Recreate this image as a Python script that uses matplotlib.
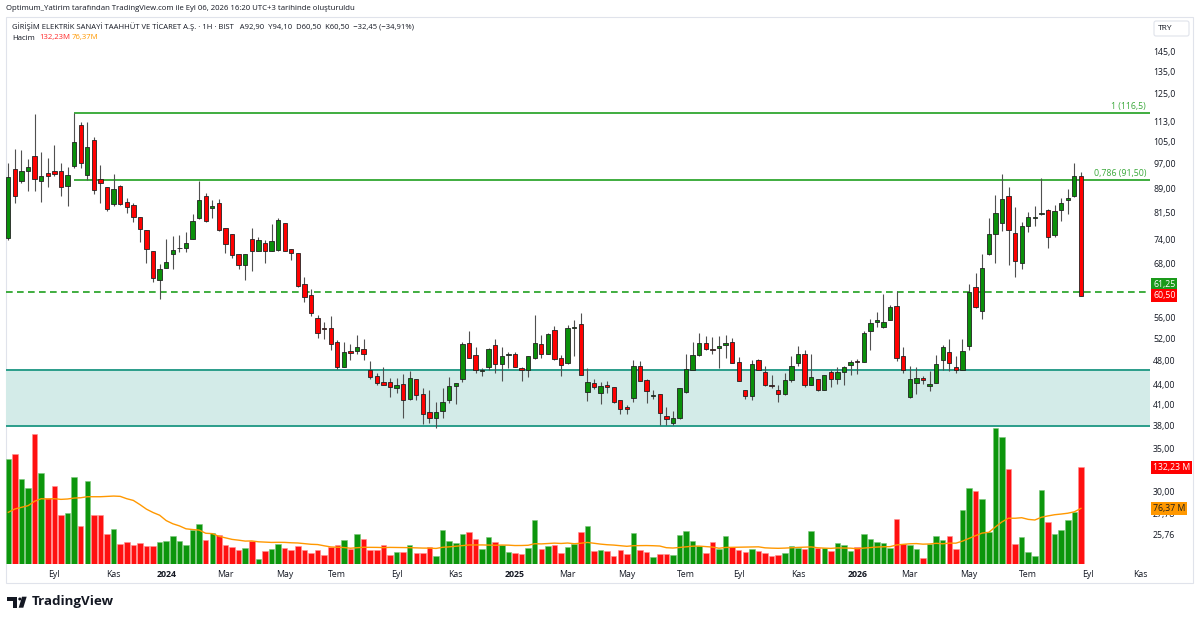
import numpy as np
import pandas as pd
import matplotlib
matplotlib.use('Agg')
import matplotlib.pyplot as plt
from matplotlib.patches import Rectangle, Polygon, Circle, FancyBboxPatch
from matplotlib.ticker import NullLocator, NullFormatter

plt.rcParams['font.family'] = ['Open Sans', 'DejaVu Sans']

# weekly candles (1H = 1 hafta), first bar = week of 2023-07-17
first_week = '2023-07-17'

opens = [74.3, 95.2, 91.4, 94.7, 99.8, 91.4, 93.9, 94.7, 94.7, 89.6,
         96.2, 111.7, 93.1, 105.6, 91.9, 89.2, 84.0, 89.6, 84.8, 83.6,
         80.3, 76.6, 71.1, 64.0, 66.8, 70.3, 71.7, 71.9, 74.2, 80.0,
         86.4, 83.0, 84.3, 77.2, 75.4, 70.2, 67.6, 74.1, 71.0, 73.0,
         71.0, 71.3, 78.4, 71.5, 70.4, 63.1, 60.6, 55.8, 53.9, 53.9,
         51.2, 46.9, 49.6, 49.7, 50.0, 46.3, 45.4, 44.5, 44.4, 43.5,
         44.1, 41.8, 44.9, 42.5, 39.9, 39.1, 40.0, 41.6, 43.8, 44.9,
         51.0, 49.0, 46.2, 46.8, 50.8, 47.4, 49.0, 49.1, 46.7, 46.4,
         48.4, 50.9, 49.2, 53.6, 48.5, 47.5, 54.0, 54.6, 42.9, 44.3,
         42.7, 44.0, 43.6, 41.6, 40.6, 41.9, 47.0, 44.7, 42.3, 42.5,
         39.4, 38.3, 39.0, 42.8, 46.4, 48.9, 51.1, 50.0, 50.1, 50.8,
         51.3, 47.7, 43.1, 42.2, 48.1, 46.0, 44.0, 43.1, 42.6, 44.8,
         47.5, 49.2, 44.0, 44.9, 43.2, 46.0, 44.9, 46.0, 47.3, 47.9,
         47.8, 53.4, 55.1, 54.2, 55.5, 58.4, 48.7, 42.1, 44.2, 45.0,
         43.8, 44.3, 48.0, 49.5, 46.9, 46.4, 50.5, 62.5, 57.3, 70.3,
         75.5, 78.5, 86.6, 75.8, 68.0, 77.7, 80.0, 81.0, 82.3, 75.3,
         82.3, 85.3, 86.5, 92.9]

highs = [97.5, 102.3, 102.0, 98.6, 116.1, 101.3, 99.0, 104.0, 97.3, 96.1,
         116.5, 112.7, 112.7, 107.0, 96.8, 89.2, 93.6, 90.0, 85.8, 84.5,
         80.3, 76.6, 71.1, 67.8, 74.1, 74.9, 75.2, 75.9, 81.2, 91.4,
         87.3, 85.3, 85.6, 77.2, 75.4, 70.2, 70.2, 77.2, 74.7, 73.9,
         78.3, 79.8, 78.4, 71.5, 70.4, 64.6, 62.0, 56.5, 55.1, 56.2,
         51.6, 51.2, 50.9, 52.5, 51.8, 47.9, 45.9, 46.9, 45.0, 45.0,
         45.7, 46.2, 44.9, 43.5, 43.1, 41.4, 43.5, 45.2, 44.3, 51.3,
         53.4, 50.3, 46.7, 50.2, 51.9, 50.3, 49.4, 49.5, 46.9, 48.8,
         56.5, 52.6, 53.0, 54.3, 49.0, 54.5, 55.4, 56.8, 46.7, 44.9,
         44.4, 44.6, 43.6, 41.6, 40.9, 48.0, 47.9, 44.9, 43.1, 42.5,
         40.6, 40.0, 43.5, 49.2, 51.2, 53.0, 52.3, 52.2, 52.4, 52.6,
         52.1, 48.6, 43.1, 48.1, 48.3, 47.1, 45.5, 43.9, 45.9, 48.7,
         50.6, 49.9, 49.2, 44.9, 45.5, 46.4, 46.8, 47.1, 48.0, 48.3,
         53.4, 55.6, 57.0, 60.8, 58.6, 61.5, 50.3, 47.0, 46.8, 45.4,
         46.2, 49.0, 50.7, 51.8, 48.8, 51.9, 63.2, 65.7, 70.2, 80.0,
         86.8, 93.6, 89.3, 83.1, 78.9, 81.8, 83.5, 92.1, 82.5, 83.8,
         85.8, 88.6, 97.5, 94.1]

lows = [74.0, 84.4, 90.7, 87.9, 87.9, 84.8, 89.3, 93.0, 86.5, 83.5,
        95.6, 95.6, 91.6, 87.0, 84.3, 81.9, 83.4, 83.6, 81.3, 78.8,
        73.3, 68.1, 63.5, 59.8, 66.8, 66.7, 70.8, 70.9, 74.2, 79.6,
        78.9, 79.8, 76.4, 70.4, 69.2, 66.7, 64.0, 66.0, 71.0, 68.0,
        71.0, 71.0, 71.0, 68.8, 62.4, 59.1, 56.3, 52.1, 51.9, 49.9,
        46.5, 46.8, 48.1, 49.2, 48.1, 44.9, 43.9, 43.9, 42.1, 42.7,
        39.0, 41.7, 41.7, 38.2, 38.4, 37.7, 39.1, 41.2, 41.0, 44.5,
        48.4, 45.9, 45.4, 46.4, 45.9, 44.6, 46.7, 46.8, 44.6, 45.2,
        48.3, 48.5, 49.1, 48.1, 45.4, 47.4, 48.7, 45.5, 41.5, 43.3,
        41.0, 42.7, 41.2, 39.6, 39.6, 41.4, 44.6, 41.2, 41.8, 38.1,
        38.1, 38.1, 38.9, 42.7, 46.3, 48.7, 49.9, 49.2, 46.7, 48.5,
        47.5, 44.6, 41.8, 41.6, 46.4, 43.8, 43.5, 41.4, 42.4, 44.4,
        47.1, 43.7, 43.9, 43.0, 43.1, 43.7, 44.1, 43.9, 45.5, 45.8,
        47.7, 49.9, 54.2, 54.0, 55.4, 47.9, 45.9, 41.9, 42.6, 44.1,
        43.0, 44.2, 46.4, 46.2, 45.9, 46.3, 49.9, 57.9, 55.7, 70.0,
        68.1, 76.3, 67.6, 64.6, 66.7, 76.1, 77.7, 80.8, 71.9, 74.7,
        79.0, 81.0, 86.3, 60.5]

closes = [92.5, 86.5, 94.6, 96.1, 91.8, 92.9, 93.0, 93.5, 89.3, 93.2,
          104.9, 97.5, 103.0, 88.4, 90.6, 82.6, 88.8, 84.0, 83.1, 80.3,
          76.8, 71.6, 64.4, 66.6, 68.3, 71.3, 71.9, 73.0, 79.1, 85.3,
          79.1, 83.5, 76.6, 72.8, 70.0, 67.6, 70.2, 71.0, 73.9, 71.0,
          73.5, 79.4, 71.1, 70.4, 62.6, 60.2, 56.8, 52.9, 53.8, 50.9,
          46.9, 49.5, 49.3, 50.3, 49.2, 45.2, 44.3, 44.0, 43.6, 44.0,
          41.7, 45.1, 42.4, 39.6, 39.1, 39.9, 41.4, 43.8, 44.2, 50.9,
          48.5, 46.4, 46.3, 50.0, 47.4, 48.8, 49.1, 46.9, 46.3, 48.7,
          51.1, 49.1, 52.8, 48.2, 47.3, 54.0, 54.1, 45.5, 44.4, 43.6,
          43.8, 43.6, 41.3, 40.4, 40.4, 47.0, 44.6, 43.0, 42.4, 39.8,
          38.9, 39.0, 43.5, 46.5, 48.9, 51.1, 50.0, 49.9, 50.6, 51.0,
          47.6, 44.6, 42.2, 47.4, 46.4, 44.0, 43.8, 42.6, 44.7, 47.1,
          49.2, 43.9, 45.2, 43.1, 45.5, 44.9, 46.0, 46.8, 47.8, 47.8,
          52.9, 54.8, 55.4, 55.0, 58.2, 48.5, 46.4, 44.9, 45.0, 44.7,
          44.1, 47.4, 50.3, 47.6, 46.4, 49.7, 61.4, 58.1, 66.9, 75.5,
          81.3, 85.5, 76.7, 68.6, 77.7, 80.2, 80.1, 81.3, 74.6, 82.0,
          84.5, 86.0, 92.9, 60.5]

# volume in millions
volumes = [143.2, 150.4, 115.9, 104.5, 177.7, 124.9, 90.0, 106.4, 66.9, 69.6,
           119.5, 52.7, 113.2, 67.7, 66.9, 41.4, 47.8, 27.4, 30.5, 26.8,
           29.6, 25.1, 25.1, 30.5, 31.5, 38.7, 32.3, 26.8, 46.9, 54.6,
           33.2, 42.4, 40.5, 26.8, 23.7, 20.0, 22.8, 31.5, 7.4, 18.3,
           21.0, 28.2, 22.8, 20.0, 25.5, 20.0, 15.5, 20.0, 12.8, 23.7,
           26.4, 33.2, 21.0, 41.4, 34.6, 20.0, 20.0, 26.4, 12.8, 16.5,
           17.3, 26.4, 16.0, 15.1, 24.2, 11.4, 46.9, 31.9, 29.2, 41.0,
           43.7, 34.2, 21.4, 36.9, 30.1, 26.0, 16.9, 16.0, 14.2, 22.3,
           60.0, 21.4, 25.1, 26.9, 15.1, 23.3, 28.2, 44.6, 51.9, 18.7,
           19.6, 17.8, 11.4, 19.6, 14.2, 42.8, 19.6, 16.9, 9.6, 14.2,
           14.2, 12.4, 40.1, 45.5, 31.9, 25.1, 16.0, 30.1, 21.4, 39.1,
           23.3, 19.6, 16.9, 21.4, 18.7, 15.1, 11.4, 12.4, 15.1, 24.6,
           22.8, 20.5, 45.5, 22.3, 21.9, 18.7, 28.7, 26.0, 18.7, 23.3,
           41.0, 34.2, 30.5, 28.7, 22.3, 62.3, 27.8, 26.9, 20.5, 9.2,
           27.8, 38.2, 33.2, 39.1, 21.4, 74.1, 104.1, 100.0, 89.1, 43.7,
           186.3, 174.0, 129.5, 27.8, 37.3, 16.9, 11.0, 100.9, 58.2, 41.0,
           46.4, 60.5, 71.8, 132.23]

# 20-week volume MA for the first 19 bars (window starts before the visible range)
vol_ma_head = [71.0, 75.5, 77.8, 80.0, 86.0, 89.5, 89.1, 89.5, 88.6, 89.1,
               90.4, 90.8, 92.2, 92.2, 92.2, 92.7, 93.1, 92.7, 89.5]

price_ticks = [145.0, 135.0, 125.0, 113.0, 105.0, 97.0, 89.0, 81.5, 74.0, 68.0,
               56.0, 52.0, 48.0, 44.0, 41.0, 38.0, 35.0, 30.0, 27.78, 25.76]
price_tick_labels = ['145,0', '135,0', '125,0', '113,0', '105,0', '97,00', '89,00',
                     '81,50', '74,00', '68,00', '56,00', '52,00', '48,00', '44,00',
                     '41,00', '38,00', '35,00', '30,00', '27,78', '25,76']
month_abbr = {3: 'Mar', 5: 'May', 7: 'Tem', 9: 'Eyl', 11: 'Kas'}

fib_levels = [116.5, 91.5]
fib_labels = ['1 (116,5)', '0,786 (91,50)']
fib_start = 10          # bar where the fib levels are anchored
support = 61.25
zone_low, zone_high = 38.0, 46.3

title = 'Optimum_Yatirim tarafından TradingView.com ile Eyl 06, 2026 16:20 UTC+3 tarihinde oluşturuldu'
legend = ('GİRİŞİM ELEKTRİK SANAYİ TAAHHÜT VE TİCARET A.Ş. · 1H · BIST   '
          'A92,90  Y94,10  D60,50  K60,50  −32,45 (−34,91%)')

W, H = 1200, 622
UP, DOWN = '#0a8f0a', '#ff0000'
GREEN_LINE = '#1f9f1f'
TXT = '#131722'

o = np.array(opens)
h = np.array(highs)
l = np.array(lows)
c = np.array(closes)
x = np.arange(len(o))
up = c >= o

vol = np.array(volumes)
vol_ma = np.concatenate([vol_ma_head, np.convolve(vol, np.ones(20) / 20, 'valid')])

# month ticks: first weekly bar of every odd month
weeks = pd.date_range(first_week, periods=174, freq='W-MON')
tick_pos, tick_lab, tick_bold = [], [], []
for i in range(1, len(weeks)):
    m = weeks[i].month
    if m != weeks[i - 1].month and m % 2 == 1:
        tick_pos.append(i)
        tick_lab.append(str(weeks[i].year) if m == 1 else month_abbr[m])
        tick_bold.append(m == 1)


def px_rect(x0, y0, x1, y1):
    return [x0 / W, 1 - y1 / H, (x1 - x0) / W, (y1 - y0) / H]


fig = plt.figure(figsize=(12, 6.22), dpi=100)

# overlay in pixel coords for the frame, header texts and logo
ov = fig.add_axes([0, 0, 1, 1])
ov.set_xlim(0, W)
ov.set_ylim(H, 0)
ov.axis('off')
ov.add_patch(Rectangle((6, 16.7), 1187, 566, fill=False, ec='#e0e3eb', lw=0.8))
ov.add_patch(FancyBboxPatch((1154, 21), 35, 15, boxstyle='round,pad=0,rounding_size=2',
                            fc='white', ec='#e0e3eb', lw=0.8))
ov.text(1165.5, 28.7, 'TRY', ha='center', va='center', fontsize=6, color=TXT)
ov.text(6, 9, title, fontsize=5.6, color=TXT, va='center')
ov.text(12, 27, legend, fontsize=5.5, color=TXT, va='center')
ov.text(12, 38, 'Hacim', fontsize=5.6, color=TXT, va='center')
ov.text(39, 38, '132,23M', fontsize=5.6, color='#ff2a2a', va='center')
ov.text(72, 38, '76,37M', fontsize=5.6, color='#ff9800', va='center')

# TradingView logo
ov.add_patch(Polygon([(7.3, 596.7), (17.3, 596.7), (17.3, 607.7), (12.7, 607.7),
                      (12.7, 600.7), (7.3, 600.7)], fc=TXT, ec='none'))
ov.add_patch(Circle((19.8, 599), 1.5, fc=TXT, ec='none'))
ov.add_patch(Polygon([(22, 596.7), (26.7, 596.7), (23.3, 607.7), (18.7, 607.7)], fc=TXT, ec='none'))
ov.text(32, 602, 'TradingView', fontsize=9.6, fontweight='bold', color=TXT, va='center')

# volume pane (bottom layer)
ax = fig.add_axes(px_rect(6, 17, 1150, 564.4))
ax.set_facecolor('none')
ax.bar(x, vol, width=0.84, color=np.where(up, '#0c960c', '#ff1010'),
       edgecolor=np.where(up, '#7cc87c', '#ff9090'), linewidth=0.4, zorder=2)
ax.plot(x, vol_ma, color='#ff9800', lw=1.0, zorder=3)
ax.set_ylim(0, 745.8)
ax.set_yticks([])
ax.set_xticks(tick_pos, tick_lab)
for t, b in zip(ax.get_xticklabels(), tick_bold):
    if b:
        t.set_fontweight('bold')
ax.tick_params(axis='x', length=0, pad=4, labelsize=6.3, labelcolor=TXT)
for s in ax.spines.values():
    s.set_visible(False)

# price pane (log)
axp = ax.twinx()
axp.set_yscale('log')
axp.axhspan(zone_low, zone_high, color='#d3ebe8', lw=0, zorder=0)
axp.axhline(zone_high, color='#2a9d8a', lw=1.4, zorder=1)
axp.axhline(zone_low, color='#2a9d8a', lw=1.4, zorder=1)
axp.axhline(support, color=GREEN_LINE, lw=1.2, ls=(0, (4, 2.6)), zorder=1)
xr = 173.5
for lev, lab in zip(fib_levels, fib_labels):
    axp.hlines(lev, fib_start, xr, color=GREEN_LINE, lw=1.2, zorder=1)
    axp.annotate(lab, xy=(1, lev), xycoords=('axes fraction', 'data'), xytext=(-4, 2),
                 textcoords='offset pixels', ha='right', va='bottom', fontsize=6.3,
                 color='#3aa83a')

axp.vlines(x, l, h, color='#505050', lw=0.8, zorder=3)
axp.bar(x, np.maximum(np.abs(c - o), 0.05), bottom=np.minimum(o, c), width=0.66,
        color=np.where(up, UP, DOWN), edgecolor='#222222', linewidth=0.6, zorder=4)

axp.set_ylim(23.12, 164.2)
axp.set_yticks(price_ticks, price_tick_labels)
axp.yaxis.set_minor_locator(NullLocator())
axp.yaxis.set_minor_formatter(NullFormatter())
axp.tick_params(axis='y', length=0, pad=2.2, labelsize=6.3, labelcolor=TXT)
for s in axp.spines.values():
    s.set_visible(False)


def tag(level, text, fc, tc, coords, dy=0):
    axp.annotate(text, xy=(1, level), xycoords=coords, xytext=(3, dy),
                 textcoords='offset pixels', ha='left', va='center', fontsize=6.3,
                 color=tc, bbox=dict(boxstyle='square,pad=0.22', fc=fc, ec='none'),
                 annotation_clip=False, zorder=10)


price_coords = ('axes fraction', 'data')
tag(61.25, '61,25', '#1a9a1a', 'white', price_coords, dy=8)
tag(60.5, '60,50', '#ff0000', 'white', price_coords, dy=0)
tag(132.23, '132,23 M', '#ff0000', 'white', ax.get_yaxis_transform())
tag(76.37, '76,37 M', '#ff9800', '#1e1e1e', ax.get_yaxis_transform())

ax.set_xlim(-0.35, xr)

fig.savefig('out.png', dpi=100, facecolor='white')
